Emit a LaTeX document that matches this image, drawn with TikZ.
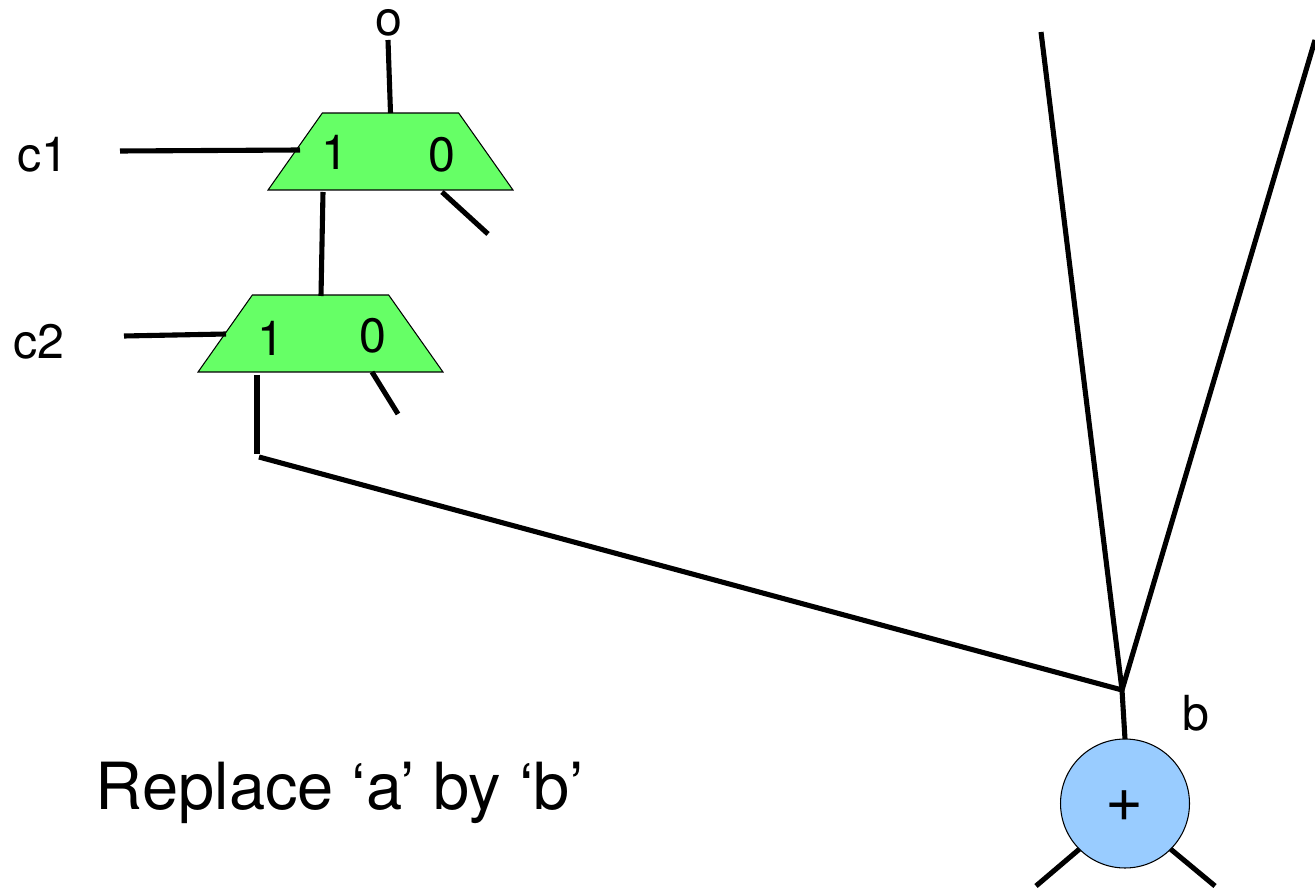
\documentclass[tikz,border=0pt]{standalone}
\usepackage{fontspec}
\setmainfont{TeX Gyre Heros}
\usetikzlibrary{shapes.geometric}
\definecolor{muxgreen}{HTML}{66FF66}
\definecolor{addblue}{HTML}{99CCFF}

\begin{document}
\begin{tikzpicture}[x=0.02cm, y=-0.02cm,
    muxbox/.style={draw=black, fill=muxgreen, line width=0.6pt, trapezium, trapezium left angle=73,
                   trapezium right angle=73, trapezium stretches=true, inner sep=0pt, outer sep=0pt,
                   minimum width=4.9cm, minimum height=1.54cm},
    addnode/.style={draw=black, fill=addblue, line width=0.6pt, circle, inner sep=0pt, outer sep=0pt,
                    minimum size=2.58cm},
    lab/.style={inner sep=0pt, font=\fontsize{27.5}{27.5}\selectfont},
    wire/.style={line width=2.9pt}]
    \useasboundingbox (0,0) rectangle (1315,888);
    % wires first, muxes on top
    \coordinate (oend) at (388,40);
    \coordinate (celeft) at (120,151);
    \coordinate (ceright) at (300,150);
    \coordinate (cfleft) at (124,336);
    \coordinate (cfright) at (226,334);
    \coordinate (linktop) at (323,192);
    \coordinate (linkbot) at (321,296);
    \coordinate (azeroa) at (442,192);
    \coordinate (azerob) at (488,234);
    \coordinate (bzeroa) at (372,372);
    \coordinate (bzerob) at (398,414);
    \coordinate (bonea) at (257,375);
    \coordinate (boneb) at (257,454);
    \coordinate (longa) at (259,457);
    \coordinate (fork) at (1122,690);
    \coordinate (forkl) at (1041,32);
    \coordinate (forkr) at (1315,40);
    \coordinate (addl) at (1036,886);
    \coordinate (addr) at (1215,886);

    \node[muxbox] (muxa) at (390.5,151.5) {\phantom{0}};
    \node[muxbox] (muxb) at (320.5,333.5) {\phantom{0}};
    \node[addnode] (add) at (1125,803.5) {};

    \node[inner sep=0pt, font=\fontsize{37}{37}\selectfont] (addsign) at (1124,806) {+};
    \node[lab] (olab) at (389,23) {o};
    \node[lab] (cea) at (43,155) {c1};
    \node[lab] (ceb) at (39,342) {c2};
    \node[lab] (blab) at (1196,713) {b};
    \node[lab] (aone) at (335,152) {1};
    \node[lab] (azero) at (442,155) {0};
    \node[lab] (bone) at (271,338) {1};
    \node[lab] (bzero) at (373,336) {0};
    \node[inner sep=0pt, font=\fontsize{37}{37}\selectfont] (note) at (340,793) {Replace ‘a’ by ‘b’};

    \draw[wire] (oend) -- (muxa.north);
    \draw[wire] (celeft) -- (ceright);
    \draw[wire] (cfleft) -- (cfright);
    \draw[wire] (linktop) -- (linkbot);
    \draw[wire] (azeroa) -- (azerob);
    \draw[wire] (bzeroa) -- (bzerob);
    \draw[wire] (bonea) -- (boneb);
    \draw[wire] (longa) -- (fork);
    \draw[wire] (forkl) -- (fork);
    \draw[wire] (forkr) -- (fork);
    \draw[wire] (fork) -- (add.north);
    \draw[wire] (add.225) -- (addl);
    \draw[wire] (add.315) -- (addr);
\end{tikzpicture}
\end{document}
